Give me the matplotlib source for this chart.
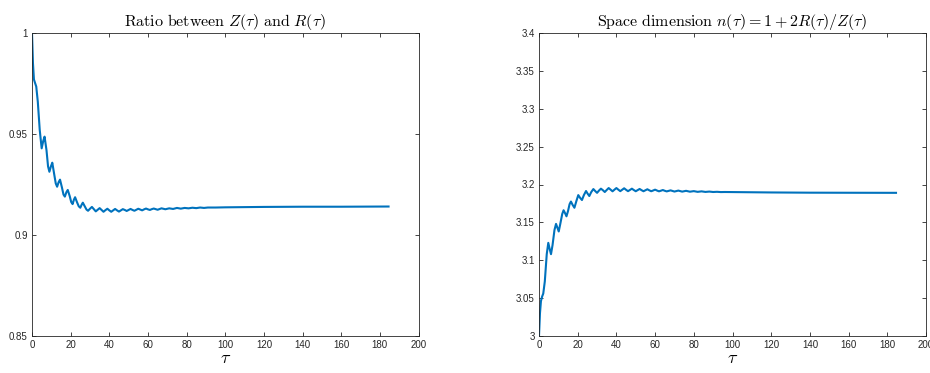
import matplotlib
matplotlib.use("Agg")
import matplotlib.pyplot as plt
from matplotlib.ticker import FuncFormatter

plt.rcParams['mathtext.fontset'] = 'cm'
plt.rcParams['font.family'] = ['Liberation Sans', 'DejaVu Sans']

# ---- data ----
tau_ratio = [0, 0.5, 1.0, 1.5, 2.2, 3.0, 4.0, 5.0, 5.8, 6.5, 7.5, 8.3, 9.0, 9.8, 10.5,
             11.5, 12.3, 13.0, 13.8, 14.5, 15.5, 16.3, 17.0, 17.8, 18.5, 19.5, 20.3,
             21.0, 21.7, 22.3, 23.3, 24.2, 25.0, 25.7, 26.3, 27.3, 28.2, 29.0,
             30, 31, 32, 33, 34, 35, 36, 37, 38, 39, 40, 41, 42, 43, 44, 45, 46, 47,
             48, 49, 50, 51, 52, 53, 54, 55, 56, 57, 58, 59, 60, 61, 62, 63, 64, 65,
             67, 69, 71, 73, 75, 77, 79, 81, 83, 85, 87, 89, 91, 95, 100, 110, 120,
             140, 160, 184.5]
ratio = [1.000, 0.985, 0.977, 0.9755, 0.9735, 0.966, 0.952, 0.9429, 0.9465, 0.9487,
         0.942, 0.934, 0.9313, 0.934, 0.9358, 0.930, 0.9255, 0.9239, 0.9262, 0.9274,
         0.9235, 0.9200, 0.9190, 0.9212, 0.9223, 0.9193, 0.9163, 0.9153, 0.9175,
         0.9187, 0.9162, 0.9142, 0.9135, 0.9150, 0.9160, 0.9142, 0.9126, 0.9120,
         0.9130, 0.9139, 0.9128, 0.9117, 0.9125, 0.9133, 0.9124, 0.9115, 0.9123,
         0.9130, 0.9122, 0.9115, 0.9122, 0.9129, 0.9122, 0.9116, 0.9122, 0.9128,
         0.9124, 0.9119, 0.9124, 0.9129, 0.9124, 0.9120, 0.9125, 0.9130, 0.9126,
         0.9122, 0.9127, 0.9131, 0.9127, 0.9124, 0.9128, 0.9131, 0.9128, 0.9125,
         0.9132, 0.91275, 0.9132, 0.9129, 0.9134, 0.91305, 0.9134, 0.9132, 0.9135,
         0.9133, 0.9136, 0.9134, 0.9136, 0.9136, 0.9137, 0.9138, 0.9139, 0.9140,
         0.9140, 0.9141]

tau_dim = [0, 0.5, 1.0, 1.6, 2.2, 3.0, 4.0, 4.8, 5.5, 6.2, 7.0, 8.0, 8.8, 9.5, 10.2,
           11.0, 12.0, 12.7, 13.5, 14.2, 15.0, 15.8, 16.5, 17.4, 18.3, 19.3, 20.3,
           21.2, 22.2, 23.2, 24.3, 25.1, 26.0, 27.0, 28.1, 29.0, 30,
           31, 32, 33, 34, 35, 36, 37, 38, 39, 40, 41, 42, 43, 44, 45, 46, 47, 48,
           49, 50, 51, 52, 53, 54, 55, 56, 57, 58, 59, 60, 61, 62, 63, 64, 65, 66,
           68, 70, 72, 74, 76, 78, 80, 82, 84, 86, 88, 90, 92, 94, 96, 100, 120,
           140, 160, 184.5]
dim = [3.000, 3.030, 3.046, 3.052, 3.056, 3.072, 3.108, 3.123, 3.115, 3.108, 3.120,
       3.140, 3.148, 3.143, 3.138, 3.148, 3.161, 3.166, 3.162, 3.158, 3.165, 3.174,
       3.1775, 3.173, 3.1693, 3.178, 3.186, 3.1825, 3.1795, 3.186, 3.1914, 3.188,
       3.1848, 3.190, 3.194, 3.1915, 3.189,
       3.1920, 3.1945, 3.1925, 3.1901, 3.1928, 3.1953, 3.1932, 3.1910, 3.1932,
       3.1953, 3.1932, 3.1912, 3.1931, 3.1950, 3.1930, 3.1912, 3.1928, 3.1945,
       3.1927, 3.1911, 3.1926, 3.1941, 3.1925, 3.1911, 3.1924, 3.1937, 3.1923,
       3.1911, 3.1921, 3.1932, 3.1920, 3.1910, 3.1918, 3.1927, 3.1917, 3.1909,
       3.19225, 3.1907, 3.19195, 3.1906, 3.19165, 3.1905, 3.19125, 3.1903, 3.19095,
       3.1902, 3.19065, 3.1901, 3.19035, 3.1900, 3.1901, 3.1900, 3.1895, 3.1892,
       3.1891, 3.1890]

x_ticks = [0, 20, 40, 60, 80, 100, 120, 140, 160, 180, 200]
ratio_ticks = [0.85, 0.9, 0.95, 1.0]
dim_ticks = [3.0, 3.05, 3.1, 3.15, 3.2, 3.25, 3.3, 3.35, 3.4]

title_left = r"$\mathrm{Ratio\ between\ }Z(\tau)\mathrm{\ and\ }R(\tau)$"
title_right = r"$\mathrm{Space\ dimension\ }n(\tau)=1+2R(\tau)/Z(\tau)$"

# ---- figure ----
fig = plt.figure(figsize=(9.3, 3.73), dpi=100)
ax1 = fig.add_axes([32/930, 1-336/373, (418.5-32)/930, (336-33)/373])
ax2 = fig.add_axes([539/930, 1-336/373, (926-539)/930, (336-33)/373])

line_color = '#0072BD'
dark = '#262626'
fmt = FuncFormatter(lambda v, p: ('%g' % round(v, 4)))

for ax, t, y, yt, title in [(ax1, tau_ratio, ratio, ratio_ticks, title_left),
                            (ax2, tau_dim, dim, dim_ticks, title_right)]:
    ax.plot(t, y, color=line_color, lw=1.5, solid_joinstyle='round')
    ax.set_xlim(0, 200)
    ax.set_ylim(yt[0], yt[-1])
    ax.set_xticks(x_ticks)
    ax.set_yticks(yt)
    ax.yaxis.set_major_formatter(fmt)
    ax.tick_params(direction='in', length=3, width=0.6, colors=dark,
                   labelsize=7, top=True, right=True, pad=3)
    for s in ax.spines.values():
        s.set_color(dark)
        s.set_linewidth(0.6)
    ax.set_title(title, fontsize=11.5, color='black', pad=5)
    ax.set_xlabel(r"$\tau$", fontsize=13, labelpad=0)

fig.savefig("out.png", dpi=100)
